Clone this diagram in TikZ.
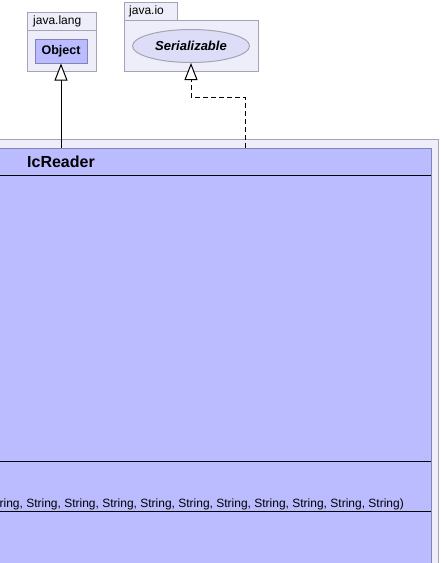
\documentclass[tikz,border=0pt]{standalone}
\usepackage{fontspec}
\setmainfont{Liberation Sans}
\usetikzlibrary{arrows.meta,shapes.geometric}
\definecolor{pkgfill}{HTML}{EEEEFA}
\definecolor{pkgline}{HTML}{A4A4B4}
\definecolor{clsfill}{HTML}{BBBBFF}
\definecolor{clsline}{HTML}{8484B4}
\definecolor{ifill}{HTML}{DDDDF8}
\begin{document}
\begin{tikzpicture}[x=1pt,y=-1pt,
  pkgbox/.style={draw=pkgline,fill=pkgfill,line width=1pt,inner sep=0pt,rectangle},
  clsbox/.style={draw=clsline,fill=clsfill,line width=1pt,inner sep=0pt,rectangle},
  sep/.style={draw=black,line width=1pt},
  pkglabel/.style={font=\fontsize{12}{14}\selectfont,inner sep=0pt,anchor=west},
  gen/.style={line width=1pt,-{Triangle[length=17pt,width=13pt,fill=white]}},
  real/.style={gen,dash pattern=on 5pt off 3pt}
]
\useasboundingbox (0,0) rectangle (441,563);
\clip (0,0) rectangle (441,563);
% outer package
\filldraw[pkgbox] (-10,139) rectangle (438,575);
% class box
\filldraw[clsbox] (-10,148) rectangle (431,575);
\draw[sep] (-10,175) -- (431,175);
\draw[sep] (-10,461) -- (431,461);
\draw[sep] (-10,511) -- (431,511);
\node[inner sep=0pt,anchor=west,font=\bfseries\fontsize{16}{18}\selectfont] (name) at (27,162) {IcReader};
\node[inner sep=0pt,anchor=base east,font=\fontsize{12}{14}\selectfont] (ctor) at (404,507.5) {ring, String, String, String, String, String, String, String, String, String, String)};
% java.lang package
\filldraw[pkgbox] (27,12) rectangle (96,30);
\filldraw[pkgbox] (27,30) rectangle (96,71);
\node[pkglabel] (langlbl) at (33,21) {java.lang};
\node[clsbox,minimum width=52pt,minimum height=24pt,font=\bfseries\fontsize{12.5}{14}\selectfont] (obj) at (61,51) {Object};
% java.io package
\filldraw[pkgbox] (124,2) rectangle (177,20);
\filldraw[pkgbox] (124,20) rectangle (258,71);
\node[pkglabel] (iolbl) at (129,11) {java.io};
\node[ellipse,draw=pkgline,fill=ifill,line width=1pt,inner sep=0pt,minimum width=117pt,minimum height=33pt,font=\bfseries\itshape\fontsize{13}{15}\selectfont] (ser) at (191,46) {Serializable};
% connectors
\coordinate (objsrc) at (61,148);
\coordinate (sersrc) at (245,148);
\draw[gen] (objsrc) -- (obj.south);
\draw[real] (sersrc) -- (245,97) -- (191,97) -- (ser.south);
\end{tikzpicture}
\end{document}
